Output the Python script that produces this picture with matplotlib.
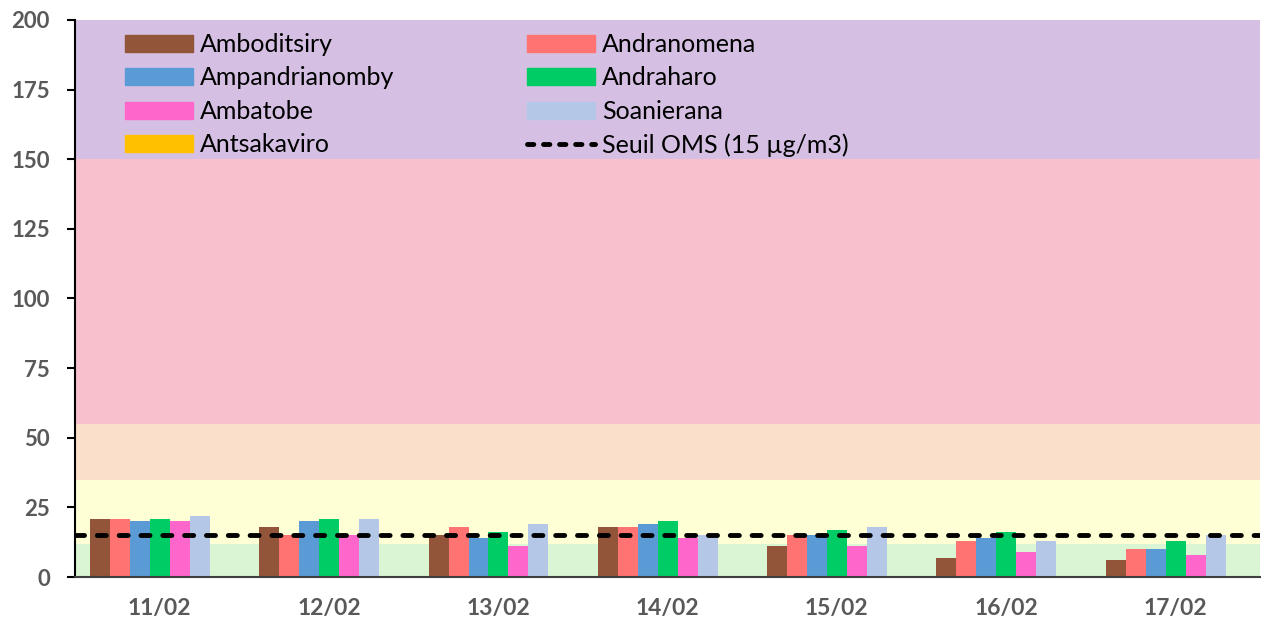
import matplotlib.pyplot as plt
import matplotlib.patches as mpatches
from matplotlib.lines import Line2D
import numpy as np

plt.rcParams["font.family"] = ["Lato", "DejaVu Sans"]

dates = ["11/02", "12/02", "13/02", "14/02", "15/02", "16/02", "17/02"]

amboditsiry = [21, 18, 15, 18, 11, 7, 6]
andranomena = [21, 15, 18, 18, 15, 13, 10]
ampandrianomby = [20, 20, 14, 19, 15, 14, 10]
andraharo = [21, 21, 16, 20, 17, 16, 13]
ambatobe = [20, 15, 11, 14, 11, 9, 8]
soanierana = [22, 21, 19, 15, 18, 13, 15]
antsakaviro = [np.nan] * 7  # no data shown

seuil_oms = 15

# AQI bands (PM2.5)
band_edges = [0, 12, 35, 55, 150, 200]
band_colors = ["#d9f5d3", "#ffffd5", "#fadfca", "#f8bfcc", "#d5c0e3"]

series = [
    ("Amboditsiry", amboditsiry, "#925539"),
    ("Andranomena", andranomena, "#ff7372"),
    ("Ampandrianomby", ampandrianomby, "#5b9bd5"),
    ("Andraharo", andraharo, "#00cc66"),
    ("Ambatobe", ambatobe, "#ff66cc"),
    ("Soanierana", soanierana, "#b4c7e7"),
    ("Antsakaviro", antsakaviro, "#ffc000"),
]

fig = plt.figure(figsize=(12.62, 6.22), dpi=100)
ax = fig.add_axes([75 / 1262, 45 / 622, 1185 / 1262, 557 / 622])

for lo, hi, c in zip(band_edges[:-1], band_edges[1:], band_colors):
    ax.axhspan(lo, hi, color=c, lw=0, zorder=0)

x = np.arange(len(dates))
width = 0.118
handles = {}
for i, (name, vals, col) in enumerate(series):
    pos = x - 0.5 + 15 / 169.3 + width * (i + 0.5)
    ax.bar(pos, vals, width=width, color=col, edgecolor="none", zorder=2)
    handles[name] = mpatches.Patch(color=col, label=name)

ax.axhline(seuil_oms, color="black", lw=3.5, ls=(0, (1.86, 2.63)),
           dash_capstyle="round", zorder=3)
line_handle = Line2D([0], [0], color="black", lw=3.5, ls=(0, (1.3, 2.0)),
                     dash_capstyle="round", label="Seuil OMS (15 µg/m3)")

ax.set_xlim(-0.5, 6.5)
ax.set_ylim(0, 200)
ax.set_yticks(np.arange(0, 201, 25))
ax.set_xticks(x)
ax.set_xticklabels(dates)

for s in ["top", "right"]:
    ax.spines[s].set_visible(False)
ax.spines["left"].set_color("black")
ax.spines["left"].set_linewidth(1.5)
ax.spines["bottom"].set_color("#404040")
ax.spines["bottom"].set_linewidth(1.5)

ax.tick_params(axis="y", length=6, width=1.5, direction="out", pad=12,
               labelsize=16, labelcolor="#595959")
ax.tick_params(axis="x", length=0, pad=15, labelsize=16.5, labelcolor="#595959")
for lab in ax.get_xticklabels() + ax.get_yticklabels():
    lab.set_fontweight("bold")

order = [handles["Amboditsiry"], handles["Ampandrianomby"], handles["Ambatobe"],
         handles["Antsakaviro"], handles["Andranomena"], handles["Andraharo"],
         handles["Soanierana"], line_handle]
ax.legend(handles=order, ncol=2, loc="upper left", bbox_to_anchor=(0.042, 0.977),
          frameon=False, fontsize=18, handlelength=2.72, handleheight=0.67,
          handletextpad=0.28, columnspacing=5.3, labelspacing=0.42,
          borderpad=0, borderaxespad=0)

fig.savefig("out.png", dpi=100)
